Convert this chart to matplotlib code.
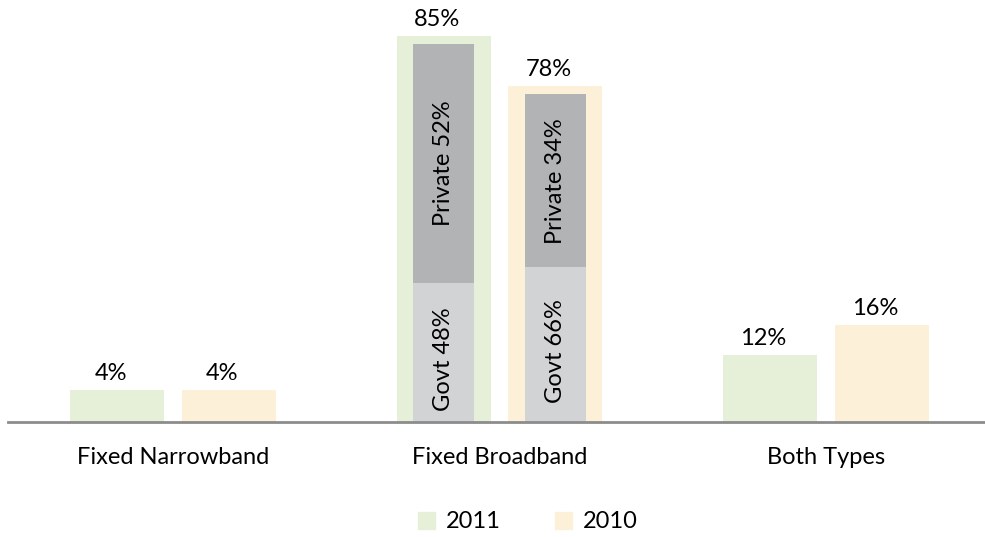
import matplotlib
matplotlib.use("Agg")
import matplotlib.pyplot as plt
from matplotlib.patches import Patch

plt.rcParams["font.family"] = ["Lato", "DejaVu Sans"]

# Datos
categorias = ["Fixed Narrowband", "Fixed Broadband", "Both Types"]
series = ["2011", "2010"]
# alturas tal como aparecen dibujadas (la escala del original no es lineal)
alto_2011 = [7.0, 85.0, 14.8]
alto_2010 = [7.0, 74.0, 21.4]
etiq_2011 = ["4%", "85%", "12%"]
etiq_2010 = ["4%", "78%", "16%"]

# barras internas de Fixed Broadband (Govt abajo, Private arriba)
govt_alto = [30.7, 34.1]
priv_alto = [52.5, 38.1]
govt_etiq = ["Govt 48%", "Govt 66%"]
priv_etiq = ["Private 52%", "Private 34%"]

verde = "#E6F0D8"
naranja = "#FDF0D8"
gris_priv = "#B1B3B5"
gris_govt = "#D2D3D5"
fs = 17

fig = plt.figure(figsize=(9.85, 5.37), dpi=100)
ax = fig.add_axes([8 / 985, 1 - 422 / 537, 977 / 985, 422 / 537])

ancho = 0.288
desp = 0.171
x = [0, 1, 2]
x1 = [i - desp for i in x]
x2 = [i + desp for i in x]

ax.bar(x1, alto_2011, width=ancho, color=verde)
ax.bar(x2, alto_2010, width=ancho, color=naranja)

for xi, h, t in zip(x1, alto_2011, etiq_2011):
    ax.text(xi - 0.02, h + 1.3, t, ha="center", va="bottom", fontsize=fs)
for xi, h, t in zip(x2, alto_2010, etiq_2010):
    ax.text(xi - 0.02, h + 1.3, t, ha="center", va="bottom", fontsize=fs)

# barras apiladas internas
xin = [x1[1], x2[1]]
ancho_in = 0.187
ax.bar(xin, govt_alto, width=ancho_in, color=gris_govt)
ax.bar(xin, priv_alto, width=ancho_in, bottom=govt_alto, color=gris_priv)
for xi, g, p, tg, tp in zip(xin, govt_alto, priv_alto, govt_etiq, priv_etiq):
    ax.text(xi, g / 2 - 1.5, tg, rotation=90, ha="center", va="center", fontsize=fs)
    ax.text(xi, g + p / 2, tp, rotation=90, ha="center", va="center", fontsize=fs)

ax.set_xlim(-0.505, 2.487)
ax.set_ylim(0, 92.93)
ax.set_yticks([])
ax.set_xticks(x)
ax.set_xticklabels(categorias, fontsize=fs)
ax.tick_params(axis="x", length=0, pad=18)
for s in ["top", "right", "left"]:
    ax.spines[s].set_visible(False)
ax.spines["bottom"].set_color("#8C8C8C")
ax.spines["bottom"].set_linewidth(2)

handles = [Patch(color=verde), Patch(color=naranja)]
fig.legend(handles, series, loc="center", bbox_to_anchor=(528 / 985, 1 - 522 / 537),
           ncol=2, frameon=False, fontsize=fs, handlelength=0.72, handleheight=0.72,
           columnspacing=2.3, handletextpad=0.45)

plt.savefig("out.png", dpi=100)
